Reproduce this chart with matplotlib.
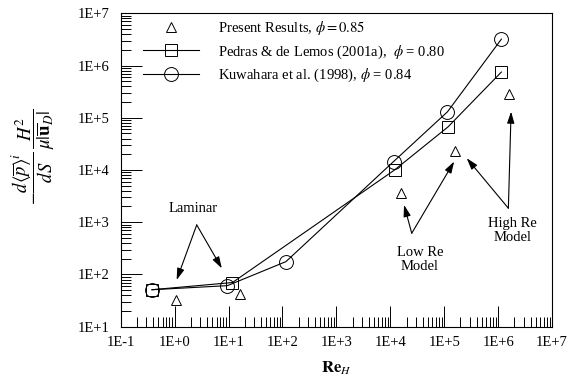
import numpy as np
import matplotlib
matplotlib.use("Agg")
import matplotlib.pyplot as plt
from matplotlib.ticker import LogLocator, FuncFormatter, NullFormatter

# ------------------------------------------------------------------
# data

present_re = [1.05, 16, 1.6e4, 1.6e5, 1.6e6]
present_val = [32, 42, 3600, 2.35e4, 2.8e5]

pedras_re = [0.38, 11.8, 1.2e4, 1.18e5, 1.15e6]
pedras_val = [51, 70, 1.0e4, 6.7e4, 7.5e5]

kuwa_re = [0.38, 9.5, 116, 1.15e4, 1.15e5, 1.15e6]
kuwa_val = [51, 61, 176, 1.45e4, 1.3e5, 3.2e6]

labels = ["Present Results, $\\phi = 0.85$",
          "Pedras & de Lemos (2001a),  $\\phi$ = 0.80",
          "Kuwahara et al. (1998), $\\phi$ = 0.84"]

# ------------------------------------------------------------------

plt.rcParams['font.family'] = ['Liberation Serif', 'DejaVu Serif']
plt.rcParams['mathtext.fontset'] = 'stix'

fig = plt.figure(figsize=(5.79, 3.91), dpi=100, facecolor='white')
ax = fig.add_axes([0.2085, 0.1645, 0.7449, 0.8015])

ax.plot(present_re, present_val, linestyle='none', marker='^', ms=7.5,
        mfc='white', mec='black', mew=0.7, label=labels[0])
ax.plot(pedras_re, pedras_val, color='black', lw=0.8, marker='s', ms=9,
        mfc='none', mec='black', mew=0.7, label=labels[1])
ax.plot(kuwa_re, kuwa_val, color='black', lw=0.8, marker='o', ms=10,
        mfc='none', mec='black', mew=0.7, label=labels[2])

ax.set_xscale('log')
ax.set_yscale('log')
ax.set_xlim(1e-1, 1e7)
ax.set_ylim(1e1, 1e7)

fmt = FuncFormatter(lambda v, p: "1E{:+d}".format(int(round(np.log10(v)))))
for axis in (ax.xaxis, ax.yaxis):
    axis.set_major_locator(LogLocator(base=10, numticks=20))
    axis.set_minor_locator(LogLocator(base=10, subs=np.arange(2, 10), numticks=20))
    axis.set_major_formatter(fmt)
    axis.set_minor_formatter(NullFormatter())

ax.tick_params(which='major', direction='in', length=15, width=0.7, labelsize=10.5)
ax.tick_params(which='minor', direction='in', length=7, width=0.7)
ax.tick_params(axis='y', pad=8)
ax.tick_params(axis='x', pad=7)
for s in ax.spines.values():
    s.set_linewidth(0.8)

ax.set_xlabel("$\\mathbf{Re}_{H}$", fontsize=12, labelpad=7)
fig.text(0.057, 0.6, "$-\\dfrac{d\\langle\\overline{p}\\rangle^{i}}{dS}\\,\\dfrac{H^{2}}{\\mu|\\overline{\\mathbf{u}}_{D}|}$",
         rotation=90, ha='center', va='center', fontsize=13.5)

ax.legend(loc='upper left', bbox_to_anchor=(0.052, 0.983), frameon=False,
          fontsize=10.5, handlelength=3.8, handletextpad=1.3,
          labelspacing=0.45, borderpad=0, borderaxespad=0)

# annotations
arrow = dict(arrowstyle='-|>,head_length=0.7,head_width=0.22', color='black',
             lw=0.8, mutation_scale=10, shrinkA=0, shrinkB=0)

ax.text(2.17, 1855, "Laminar", ha='center', va='center', fontsize=10.5)
for head in [(1.09, 78.5), (7.5, 131)]:
    ax.annotate('', xy=head, xytext=(2.57, 888), arrowprops=arrow)

ax.text(3.57e4, 190, "Low Re\nModel", ha='center', va='center', fontsize=10.5,
        linespacing=1.1)
for head in [(1.8e4, 2140), (1.53e5, 1.45e4)]:
    ax.annotate('', xy=head, xytext=(2.5e4, 615), arrowprops=arrow)

ax.text(1.87e6, 690, "High Re\nModel", ha='center', va='center', fontsize=10.5,
        linespacing=1.1)
for head in [(2.62e5, 1.68e4), (1.74e6, 1.31e5)]:
    ax.annotate('', xy=head, xytext=(1.55e6, 1853), arrowprops=arrow)

fig.savefig("out.png", dpi=100, facecolor='white')
